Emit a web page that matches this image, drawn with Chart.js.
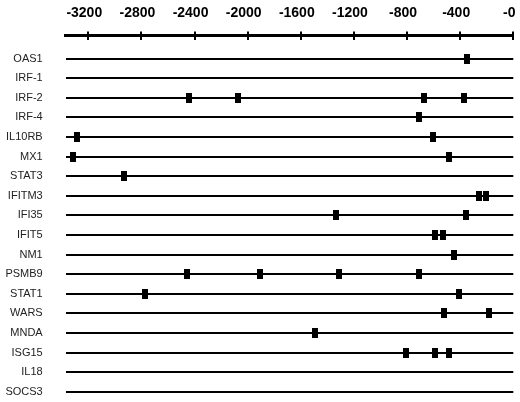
<!DOCTYPE html>
<html>
<head>
<meta charset="utf-8">
<script src="https://cdn.jsdelivr.net/npm/chart.js@4/dist/chart.umd.min.js"></script>
<style>
  html, body { margin: 0; padding: 0; background: #fff; }
  #wrap { width: 520px; height: 402px; }
</style>
</head>
<body>
<div id="wrap"><canvas id="c" width="520" height="402"></canvas></div>
<script>
// Categories (genes), top to bottom
const genes = ['OAS1','IRF-1','IRF-2','IRF-4','IL10RB','MX1','STAT3','IFITM3','IFI35','IFIT5','NM1','PSMB9','STAT1','WARS','MNDA','ISG15','IL18','SOCS3'];
// Site positions (bp upstream) per gene, aligned with genes
const sitePositions = [
  [-350],
  [],
  [-2445, -2070, -670, -370],
  [-710],
  [-3285, -605],
  [-3315, -485],
  [-2930],
  [-260, -205],
  [-1335, -355],
  [-590, -530],
  [-445],
  [-2455, -1905, -1310, -710],
  [-2775, -410],
  [-520, -180],
  [-1490],
  [-805, -590, -485],
  [],
  []
];
// Axis ticks
const xTickValues = [-3200, -2800, -2400, -2000, -1600, -1200, -800, -400, 0];
const xTickLabels = ['-3200', '-2800', '-2400', '-2000', '-1600', '-1200', '-800', '-400', '-0'];
const xMin = -3370, xMax = 0;

// marker image: black rectangle
const mark = document.createElement('canvas');
mark.width = 6; mark.height = 10;
const mctx = mark.getContext('2d');
mctx.fillStyle = '#000';
mctx.fillRect(0, 0, 6, 10);

const points = [];
sitePositions.forEach((arr, i) => arr.forEach(v => points.push({ x: v, y: i })));

const crossTicks = {
  id: 'crossTicks',
  afterDraw(chart) {
    const xs = chart.scales.x;
    const top = chart.chartArea.top;
    const ctx = chart.ctx;
    ctx.save();
    ctx.strokeStyle = '#000';
    ctx.lineWidth = 2;
    xs.ticks.forEach(t => {
      const px = Math.round(xs.getPixelForValue(t.value));
      ctx.beginPath();
      ctx.moveTo(px, top - 4);
      ctx.lineTo(px, top + 4.5);
      ctx.stroke();
    });
    ctx.restore();
  }
};

function zeroPad(s) { s.paddingLeft = 0; s.paddingRight = 0; s.paddingTop = 0; s.paddingBottom = 0; }

new Chart(document.getElementById('c'), {
  type: 'scatter',
  data: {
    datasets: [{
      data: points,
      pointStyle: mark,
      pointRadius: 5,
      pointHoverRadius: 5,
      backgroundColor: '#000',
      borderColor: '#000'
    }]
  },
  options: {
    responsive: false,
    animation: false,
    events: [],
    layout: { padding: { left: 0, right: 6.7, top: 0, bottom: 0 } },
    plugins: { legend: { display: false }, tooltip: { enabled: false } },
    scales: {
      x: {
        type: 'linear',
        position: 'top',
        min: xMin,
        max: xMax,
        afterBuildTicks: s => { s.ticks = xTickValues.map(v => ({ value: v })); },
        afterFit: s => { s.height = 35.5; zeroPad(s); },
        grid: { display: false, drawTicks: false },
        border: { display: true, color: '#000', width: 3 },
        ticks: {
          padding: 14,
          labelOffset: -4,
          maxRotation: 0,
          autoSkip: false,
          color: '#000',
          font: { family: '"Liberation Sans", Arial, sans-serif', size: 14, weight: 'bold' },
          callback: (v) => xTickLabels[xTickValues.indexOf(v)]
        }
      },
      y: {
        type: 'linear',
        reverse: true,
        min: -1.181,
        max: 17.219,
        afterBuildTicks: s => { s.ticks = genes.map((_, i) => ({ value: i })); },
        afterFit: s => { s.width = 65.7; zeroPad(s); },
        grid: { display: true, color: '#000', lineWidth: 2, drawTicks: false },
        border: { display: false },
        ticks: {
          padding: 23,
          autoSkip: false,
          color: '#222',
          font: { family: '"Liberation Sans", Arial, sans-serif', size: 11 },
          callback: (v) => genes[v]
        }
      }
    }
  },
  plugins: [crossTicks]
});
</script>
</body>
</html>
